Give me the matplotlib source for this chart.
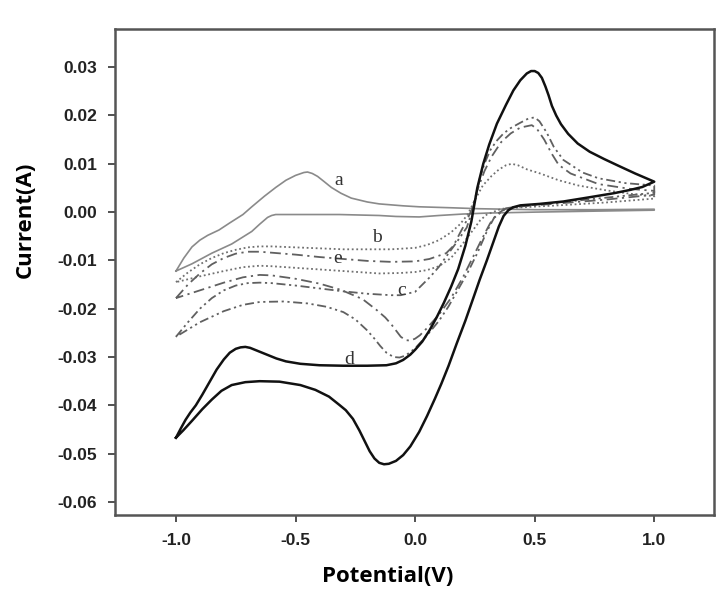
import matplotlib
matplotlib.use("Agg")
import matplotlib.pyplot as plt

# ---- data ----
# curve a (gray solid)
a_v = [-1.0, -0.967, -0.933, -0.9, -0.867, -0.82, -0.774, -0.72, -0.683, -0.63, -0.583, -0.54, -0.5, -0.465, -0.45,
       -0.43, -0.408, -0.38, -0.35, -0.31, -0.267, -0.2, -0.15, -0.05, 0.017, 0.15, 0.267, 0.5, 0.75, 1.0,
       1.0, 0.75, 0.5, 0.3, 0.2, 0.1, 0.017, -0.08, -0.15, -0.317, -0.583, -0.6, -0.617, -0.65, -0.683, -0.767,
       -0.85, -0.933, -1.0]
a_i = [-0.0122, -0.0095, -0.0072, -0.0058, -0.0048, -0.0037, -0.0022, -0.0005, 0.0011, 0.0033, 0.0051, 0.0066, 0.0076,
       0.0082, 0.0083, 0.0080, 0.0074, 0.0063, 0.0051, 0.0039, 0.0029, 0.0021, 0.0017, 0.0013, 0.0011, 0.0009, 0.0007,
       0.0005, 0.0005, 0.0006,
       0.0004, 0.0002, 0.0000, -0.0002, -0.0004, -0.0007, -0.0010, -0.0009, -0.0007, -0.0005, -0.0005, -0.0007,
       -0.0011, -0.0025, -0.0040, -0.0066, -0.0085, -0.0107, -0.0122]

# curve b (dotted)
b_v = [-1.0, -0.95, -0.9, -0.85, -0.8, -0.75, -0.7, -0.65, -0.6, -0.5, -0.4, -0.3, -0.2, -0.1, 0.0, 0.05, 0.1, 0.15,
       0.188, 0.22, 0.25, 0.283, 0.32, 0.35, 0.38, 0.404, 0.43, 0.47, 0.517, 0.6, 0.683, 0.8, 0.9, 1.0,
       1.0, 0.8, 0.6, 0.45, 0.38, 0.356, 0.3, 0.272, 0.25, 0.2, 0.15, 0.1, 0.05, 0.0, -0.06, -0.15, -0.3, -0.45,
       -0.6, -0.65, -0.72, -0.8, -0.9, -1.0]
b_i = [-0.0145, -0.0125, -0.0108, -0.0095, -0.0085, -0.0078, -0.0073, -0.0071, -0.0071, -0.0073, -0.0075, -0.0077,
       -0.0077, -0.0077, -0.0074, -0.0068, -0.0058, -0.0042, -0.0025, -0.0005, 0.0025, 0.0055, 0.0075, 0.0088, 0.0097,
       0.0100, 0.0097, 0.0088, 0.0081, 0.0066, 0.0055, 0.0045, 0.0038, 0.0033,
       0.0028, 0.0020, 0.0014, 0.0010, 0.0008, 0.0006, -0.0005, -0.0017, -0.0032, -0.0065, -0.0095, -0.0112,
       -0.0120, -0.0124, -0.0126, -0.0127, -0.0122, -0.0117, -0.0112, -0.0111, -0.0114, -0.0122, -0.0133, -0.0145]

# curve c (dash-dot-dot)
c_v = [-1.0, -0.95, -0.9, -0.85, -0.8, -0.75, -0.7, -0.65, -0.6, -0.5, -0.4, -0.3, -0.2, -0.1, -0.06, 0.0, 0.063,
       0.1, 0.13, 0.17, 0.216, 0.237, 0.255, 0.272, 0.29, 0.314, 0.34, 0.37, 0.4, 0.44, 0.475, 0.5, 0.52, 0.55,
       0.58, 0.62, 0.7, 0.767, 0.88, 1.0,
       1.0, 0.8, 0.6, 0.45, 0.38, 0.33, 0.3, 0.26, 0.22, 0.18, 0.14, 0.1, 0.05, 0.0, -0.04, -0.065, -0.09, -0.12,
       -0.146, -0.17, -0.2, -0.25, -0.3, -0.37, -0.45, -0.55, -0.65, -0.72, -0.8, -0.9, -1.0]
c_i = [-0.0258, -0.0228, -0.0200, -0.0178, -0.0162, -0.0152, -0.0147, -0.0146, -0.0147, -0.0152, -0.0158, -0.0164,
       -0.0169, -0.0172, -0.0172, -0.0165, -0.0134, -0.0113, -0.0092, -0.0065, -0.0032, 0.0000, 0.0035, 0.0073,
       0.0100, 0.0128, 0.0147, 0.0163, 0.0174, 0.0185, 0.0194, 0.0196, 0.0188, 0.0165, 0.0135, 0.0108, 0.0082,
       0.0070, 0.0060, 0.0055,
       0.0040, 0.0030, 0.0020, 0.0013, 0.0008, -0.0012, -0.0040, -0.0085, -0.0125, -0.0160, -0.0195, -0.0225,
       -0.0255, -0.0282, -0.0297, -0.0301, -0.0300, -0.0291, -0.0277, -0.0262, -0.0245, -0.0222, -0.0207, -0.0196,
       -0.0189, -0.0185, -0.0186, -0.0192, -0.0205, -0.0228, -0.0258]

# curve d (black solid)
d_v = [-1.0, -0.98, -0.96, -0.94, -0.917, -0.89, -0.86, -0.83, -0.8, -0.775, -0.75, -0.73, -0.71, -0.69, -0.66,
       -0.62, -0.58, -0.54, -0.48, -0.4, -0.3, -0.2, -0.12, -0.08, -0.05, -0.02, 0.0, 0.03, 0.06, 0.09, 0.12, 0.15,
       0.18, 0.21, 0.235, 0.26, 0.285, 0.31, 0.342, 0.38, 0.411, 0.44, 0.467, 0.485, 0.5, 0.515, 0.53, 0.545, 0.558,
       0.572, 0.59, 0.61, 0.64, 0.68, 0.73, 0.79, 0.85, 0.92, 1.0,
       0.95, 0.9, 0.83, 0.72, 0.62, 0.52, 0.44, 0.41, 0.39, 0.37, 0.35, 0.33, 0.3, 0.27, 0.244, 0.21, 0.174, 0.14,
       0.11, 0.083, 0.05, 0.017, -0.02, -0.05, -0.08, -0.11, -0.13, -0.15, -0.17, -0.19, -0.21, -0.233, -0.26,
       -0.29, -0.317, -0.36, -0.417, -0.48, -0.567, -0.65, -0.71, -0.767, -0.81, -0.85, -0.89, -0.933, -0.97, -1.0]
d_i = [-0.0467, -0.0448, -0.0430, -0.0415, -0.0400, -0.0378, -0.0352, -0.0326, -0.0305, -0.0291, -0.0283, -0.0280,
       -0.0279, -0.0281, -0.0287, -0.0295, -0.0303, -0.0309, -0.0314, -0.0317, -0.0318, -0.0318, -0.0317, -0.0313,
       -0.0306, -0.0295, -0.0285, -0.0268, -0.0245, -0.0218, -0.0188, -0.0155, -0.0118, -0.0070, -0.0020, 0.0050,
       0.0100, 0.0140, 0.0183, 0.0222, 0.0252, 0.0273, 0.0287, 0.0292, 0.0292, 0.0288, 0.0278, 0.0260, 0.0242,
       0.0220, 0.0200, 0.0182, 0.0162, 0.0142, 0.0125, 0.0110, 0.0096, 0.0080, 0.0063,
       0.0052, 0.0046, 0.0039, 0.0030, 0.0022, 0.0017, 0.0014, 0.0010, 0.0004, -0.0008, -0.0030, -0.0058, -0.0100,
       -0.0140, -0.0177, -0.0225, -0.0272, -0.0318, -0.0355, -0.0386, -0.0422, -0.0455, -0.0485, -0.0503, -0.0515,
       -0.0521, -0.0522, -0.0519, -0.0510, -0.0495, -0.0475, -0.0452, -0.0428, -0.0410, -0.0399, -0.0382, -0.0368,
       -0.0358, -0.0351, -0.0350, -0.0352, -0.0358, -0.0370, -0.0388, -0.0408, -0.0432, -0.0452, -0.0467]

# curve e (dash-dot)
e_v = [-1.0, -0.95, -0.9, -0.85, -0.8, -0.75, -0.7, -0.65, -0.6, -0.5, -0.4, -0.3, -0.2, -0.1, 0.0, 0.06, 0.13,
       0.16, 0.188, 0.215, 0.237, 0.26, 0.29, 0.32, 0.36, 0.4, 0.44, 0.488, 0.51, 0.54, 0.57, 0.6, 0.65, 0.767,
       0.9, 1.0,
       1.0, 0.8, 0.6, 0.45, 0.38, 0.34, 0.314, 0.28, 0.24, 0.2, 0.15, 0.1, 0.05, 0.02, 0.0, -0.02, -0.04, -0.06,
       -0.08, -0.1, -0.125, -0.16, -0.22, -0.31, -0.4, -0.5, -0.6, -0.65, -0.72, -0.8, -0.9, -1.0]
e_i = [-0.0178, -0.0150, -0.0127, -0.0108, -0.0095, -0.0086, -0.0082, -0.0082, -0.0084, -0.0088, -0.0093, -0.0097,
       -0.0101, -0.0103, -0.0102, -0.0097, -0.0085, -0.0070, -0.0043, -0.0018, 0.0005, 0.0045, 0.0085, 0.0115,
       0.0145, 0.0163, 0.0175, 0.0180, 0.0172, 0.0150, 0.0122, 0.0098, 0.0080, 0.0058, 0.0048, 0.0044,
       0.0036, 0.0026, 0.0018, 0.0012, 0.0008, -0.0005, -0.0023, -0.0055, -0.0095, -0.0135, -0.0178, -0.0212,
       -0.0240, -0.0255, -0.0262, -0.0266, -0.0265, -0.0258, -0.0245, -0.0232, -0.0218, -0.0203, -0.0180, -0.0161,
       -0.0148, -0.0138, -0.0131, -0.0130, -0.0135, -0.0146, -0.0162, -0.0178]

# curve labels and their positions
label_text = ["a", "b", "e", "c", "d"]
label_v = [-0.318, -0.16, -0.325, -0.055, -0.275]
label_i = [0.0066, -0.0053, -0.0096, -0.0162, -0.0306]

x_ticks = [-1.0, -0.5, 0.0, 0.5, 1.0]
y_ticks = [0.03, 0.02, 0.01, 0.00, -0.01, -0.02, -0.03, -0.04, -0.05, -0.06]

# ---- figure ----
fig = plt.figure(figsize=(7.26, 6.01), dpi=100)
ax = fig.add_axes([0.1584, 0.1431, 0.8251, 0.8086])

ax.plot(a_v, a_i, color="#8a8a8a", lw=1.2)
ax.plot(b_v, b_i, color="#707070", lw=1.3, linestyle=(0, (1, 1.5)))
ax.plot(e_v, e_i, color="#606060", lw=1.3, linestyle=(0, (6, 2.5, 1.2, 2.5)))
ax.plot(c_v, c_i, color="#606060", lw=1.3, linestyle=(0, (5, 2, 1.2, 2, 1.2, 2)))
ax.plot(d_v, d_i, color="#111111", lw=1.8)

for t, xv, yv in zip(label_text, label_v, label_i):
    ax.text(xv, yv, t, family="Liberation Serif", fontsize=14, ha="center", va="center", color="#333333")

ax.set_xlim(-1.255, 1.25)
ax.set_ylim(-0.0627, 0.0379)
ax.set_xticks(x_ticks)
ax.set_xticklabels([f"{v:.1f}" for v in x_ticks])
ax.set_yticks(y_ticks)
ax.set_yticklabels([f"{v:.2f}" for v in y_ticks])

for lab in ax.get_xticklabels() + ax.get_yticklabels():
    lab.set_family("Liberation Sans")
    lab.set_fontweight("bold")
    lab.set_fontsize(12.5)
    lab.set_color("#222222")

ax.tick_params(direction="out", length=5, width=1.2, color="#333333", pad=8)
for s in ax.spines.values():
    s.set_color("#555555")
    s.set_linewidth(1.8)

ax.set_xlabel("Potential(V)", family="Open Sans", fontweight="bold", fontsize=16)
ax.set_ylabel("Current(A)", family="Open Sans", fontweight="bold", fontsize=16)
ax.xaxis.set_label_coords(0.456, -0.104)
ax.yaxis.set_label_coords(-0.133, 0.607)

fig.savefig("out.png", dpi=100)
